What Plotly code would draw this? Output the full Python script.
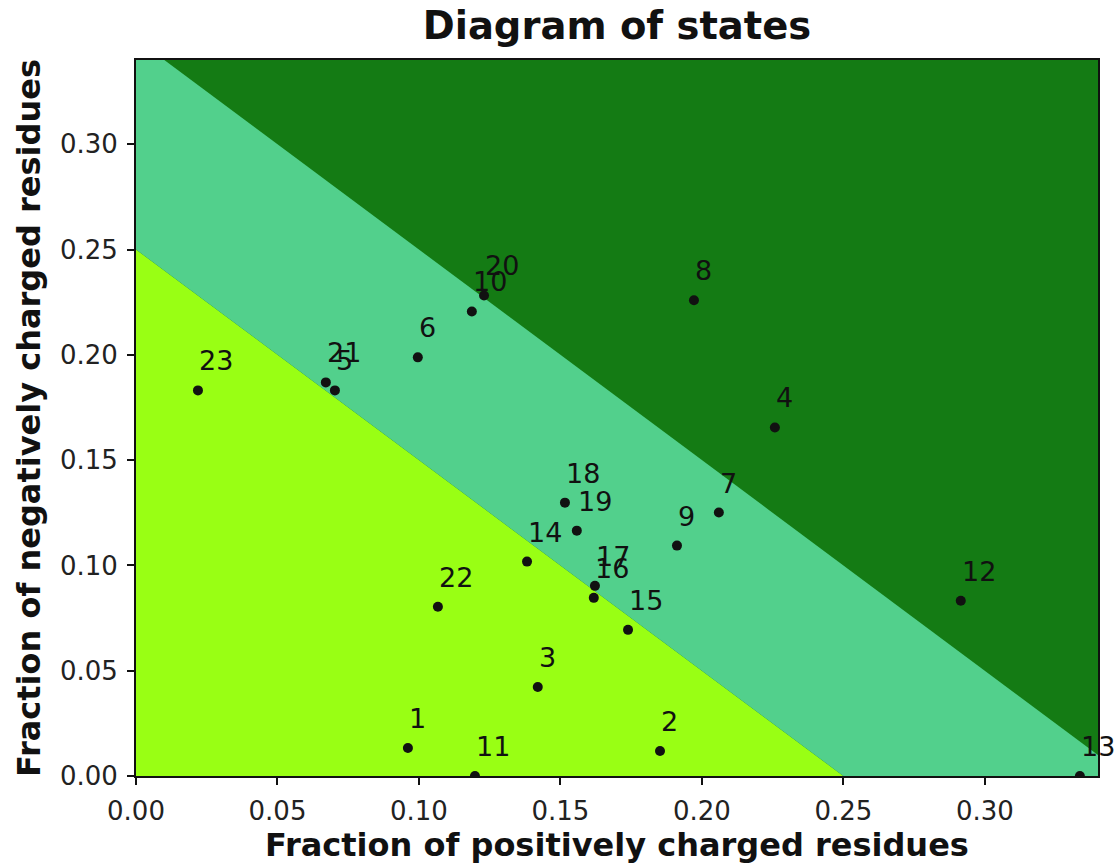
import plotly.graph_objects as go

# --- data -------------------------------------------------------------
labels = [str(i) for i in range(1, 24)]
frac_pos = [0.0961, 0.1852, 0.1420, 0.2258, 0.0703, 0.0996, 0.2060, 0.1972,
            0.1912, 0.1187, 0.1198, 0.2915, 0.3336, 0.1382, 0.1739, 0.1618,
            0.1622, 0.1516, 0.1558, 0.1230, 0.0671, 0.1067, 0.0219]
frac_neg = [0.0133, 0.0119, 0.0423, 0.1655, 0.1831, 0.1988, 0.1251, 0.2259,
            0.1094, 0.2206, 0.0000, 0.0832, 0.0000, 0.1018, 0.0694, 0.0846,
            0.0903, 0.1298, 0.1165, 0.2282, 0.1869, 0.0804, 0.1831]

# region boundaries (x + y = const)
boundary_low = 0.25
boundary_high = 0.35
axis_max = 0.34
tick_vals = [0.00, 0.05, 0.10, 0.15, 0.20, 0.25, 0.30]

c_light = "#99ff14"
c_mid = "#52d08c"
c_dark = "#147b14"

FONT = "DejaVu Sans"

fig = go.Figure()

# light region: x + y < boundary_low
fig.add_trace(go.Scatter(
    x=[0, boundary_low, 0, 0], y=[0, 0, boundary_low, 0],
    mode="lines", fill="toself", fillcolor=c_light, line=dict(width=0),
    hoverinfo="skip", showlegend=False))
# medium band
fig.add_trace(go.Scatter(
    x=[boundary_low, boundary_high, 0, 0, boundary_low],
    y=[0, 0, boundary_high, boundary_low, 0],
    mode="lines", fill="toself", fillcolor=c_mid, line=dict(width=0),
    hoverinfo="skip", showlegend=False))

# points
fig.add_trace(go.Scatter(
    x=frac_pos, y=frac_neg, mode="markers",
    marker=dict(size=10, color="#111111"),
    showlegend=False))

for lab, xv, yv in zip(labels, frac_pos, frac_neg):
    fig.add_annotation(x=xv, y=yv, text=lab, showarrow=False,
                       xanchor="left", yanchor="bottom",
                       xshift=-1, yshift=12,
                       font=dict(family=FONT, size=27, color="#111111"))

axis_common = dict(
    range=[0, axis_max], tickvals=tick_vals, tickformat=".2f",
    ticks="outside", ticklen=7, tickwidth=1.5, tickcolor="#111111",
    ticklabelstandoff=4, automargin=False,
    showline=True, linecolor="#111111", linewidth=2, mirror=True,
    showgrid=False, zeroline=False,
    tickfont=dict(family=FONT, size=26, color="#222222"),
)

fig.update_layout(
    width=1115, height=864,
    margin=dict(l=136, r=17, t=60, b=88),
    paper_bgcolor="white", plot_bgcolor=c_dark,
    title=dict(text="<b>Diagram of states</b>", x=617 / 1115, xref="container",
               xanchor="center", y=1 - 26 / 864, yref="container",
               yanchor="middle", automargin=False,
               font=dict(family=FONT, size=38.5, color="#111111")),
    xaxis=dict(**axis_common,
               title=dict(text="<b>Fraction of positively charged residues</b>",
                          font=dict(family=FONT, size=32, color="#111111"),
                          standoff=8)),
    yaxis=dict(**axis_common,
               title=dict(text="<b>Fraction of negatively charged residues</b>",
                          font=dict(family=FONT, size=32, color="#111111"),
                          standoff=10)),
)

fig.write_html("out.html")
